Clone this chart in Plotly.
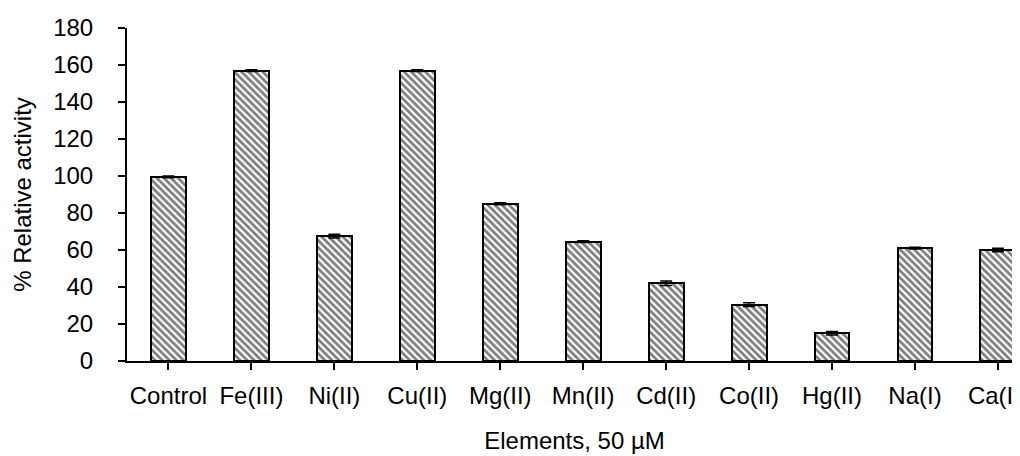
import plotly.graph_objects as go

categories = ["Control", "Fe(III)", "Ni(II)", "Cu(II)", "Mg(II)", "Mn(II)",
              "Cd(II)", "Co(II)", "Hg(II)", "Na(I)", "Ca(II)"]
activity = [99.5, 157, 67.5, 157, 85, 64.5, 42, 30.5, 15, 61, 60]
errors = [0.5, 0.5, 1.0, 0.5, 0.5, 0.5, 1.2, 1.0, 1.0, 0.5, 1.0]
y_ticks = [0, 20, 40, 60, 80, 100, 120, 140, 160, 180]

font_family = "Liberation Sans, Arial, sans-serif"

fig = go.Figure()
fig.add_trace(go.Bar(
    x=list(range(len(categories))),
    y=activity,
    width=0.42,
    marker=dict(
        color="white",
        line=dict(color="black", width=2),
        pattern=dict(shape="\\", fgcolor="black", bgcolor="white", size=5, solidity=0.55),
    ),
    error_y=dict(type="data", array=errors, visible=True, color="black", thickness=1.5, width=6),
    showlegend=False,
))

fig.update_layout(
    width=1020, height=456,
    margin=dict(l=119, r=0, t=20, b=103),
    plot_bgcolor="white", paper_bgcolor="white",
    font=dict(family=font_family, size=24, color="black"),
    bargap=0,
)
fig.update_xaxes(
    range=[-0.5, -0.5 + 901 / 83.5],
    tickmode="array",
    tickvals=list(range(len(categories))),
    ticktext=categories,
    showline=True, linecolor="black", linewidth=2,
    ticks="outside", ticklen=7, tickcolor="black", tickwidth=1.5,
    tickson="boundaries",
    showgrid=False, zeroline=False,
    title=dict(text="Elements, 50 µM", font=dict(size=24), standoff=24),
    ticklabelstandoff=5,
    ticklabeloverflow="allow",
)
fig.update_yaxes(
    range=[0, 180],
    tickvals=y_ticks,
    showline=True, linecolor="black", linewidth=2,
    ticks="outside", ticklen=7, tickcolor="black", tickwidth=1.5,
    showgrid=False, zeroline=False,
    title=dict(text="% Relative activity", font=dict(size=24), standoff=15),
    ticklabelstandoff=20,
)

fig.write_html("out.html")
